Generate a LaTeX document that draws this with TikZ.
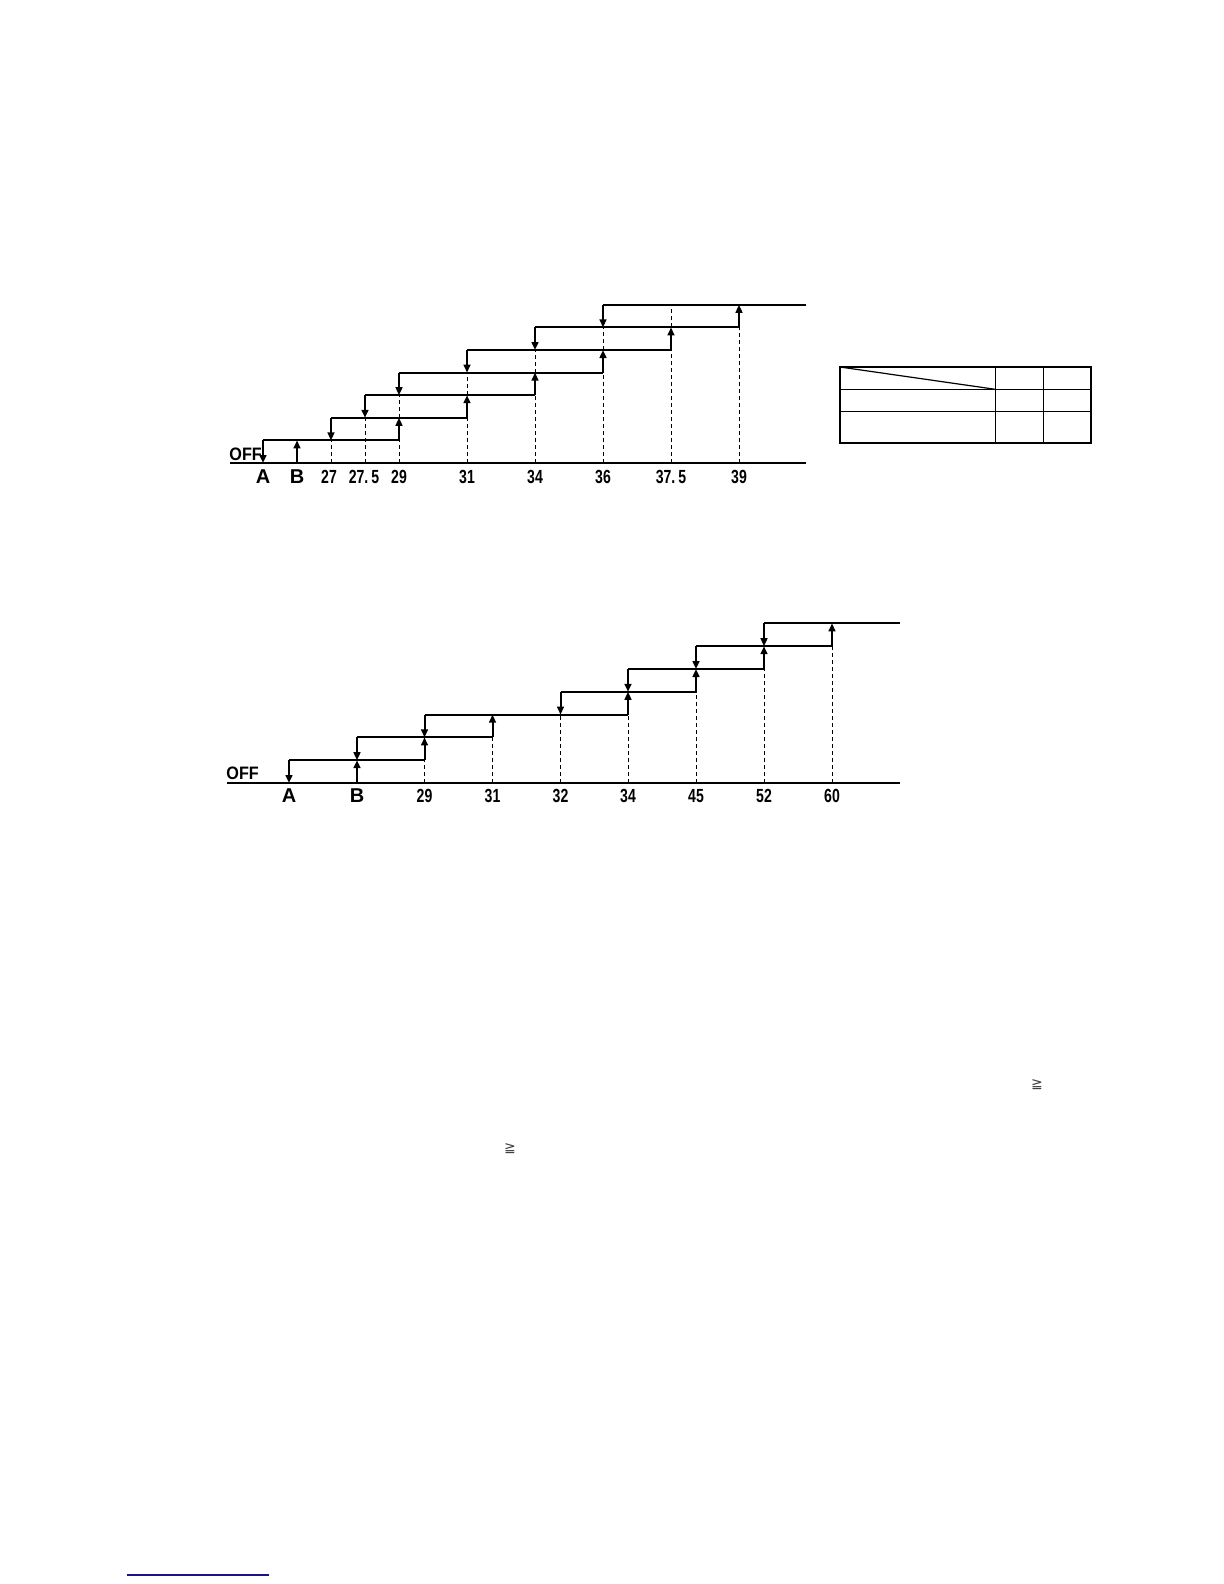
\documentclass[tikz,border=0pt]{standalone}
\usepackage{fontspec}
\setmainfont{Liberation Sans}
\newfontfamily\narrowfont[FakeStretch=0.74]{Liberation Sans}
\newfontfamily\offfont[FakeStretch=0.9]{Liberation Sans}
\newfontfamily\symfont{DejaVu Sans}
\usetikzlibrary{arrows.meta}
\begin{document}
\begin{tikzpicture}[x=0.5pt,y=-0.5pt,
  stepline/.style={line width=1pt},
  riser/.style={line width=1pt,-{Triangle[width=3.4pt,length=4pt]}},
  guide/.style={line width=0.45pt,dash pattern=on 2pt off 1.5pt},
  ticklbl/.style={font=\narrowfont\bfseries\fontsize{9.5}{11}\selectfont,inner sep=0pt},
  letterlbl/.style={font=\bfseries\fontsize{10}{11}\selectfont,inner sep=0pt},
  offlbl/.style={font=\offfont\bfseries\fontsize{9}{10}\selectfont,inner sep=0pt,anchor=west},
  geqlbl/.style={font=\symfont\fontsize{7}{8}\selectfont,inner sep=0pt,text=black!75},
  tframe/.style={line width=1.1pt},
  tgrid/.style={line width=0.6pt}]
\useasboundingbox (0,0) rectangle (1224,1584);

% ---------------- top diagram ----------------
\foreach \n/\x in {0/263,1/297,2/331,3/365,4/399,5/467,6/535,7/603,8/671,9/739,10/806}{
  \foreach \j in {0,...,7}{\coordinate (t\n-\j) at (\x,{463-22.6*\j});}
}
\coordinate (tstart) at (230,463);

\foreach \n/\a/\b in {2/0/1,3/0/2,4/0/1,4/2/3,5/0/2,5/3/4,6/0/3,6/4/5,7/0/4,7/5/6,8/0/5,8/6/7,9/0/6}
  \draw[guide] (t\n-\a) -- (t\n-\b);
\draw[stepline] (tstart) -- (t10-0);
\foreach \a/\b/\j in {0/4/1,2/5/2,3/6/3,4/7/4,5/8/5,6/9/6,7/10/7}
  \draw[stepline] (t\a-\j) -- (t\b-\j);
\foreach \n/\a/\b in {0/1/0,1/0/1,2/2/1,3/3/2,4/1/2,4/4/3,5/2/3,5/5/4,6/3/4,6/6/5,7/4/5,7/7/6,8/5/6,9/6/7}
  \draw[riser] (t\n-\a) -- (t\n-\b);

\node[offlbl] (toff) at (229,454) {OFF};
\path (t0-0) ++(0,14) node[letterlbl] (tA) {A};
\path (t1-0) ++(0,14) node[letterlbl] (tB) {B};
\path (t2-0) ++(-2,14) node[ticklbl] (t27) {27};
\path (t3-0) ++(-1,14) node[ticklbl] (t275) {27.\hspace{1.5pt}5};
\path (t4-0) ++(0,14) node[ticklbl] (t29) {29};
\path (t5-0) ++(0,14) node[ticklbl] (t31) {31};
\path (t6-0) ++(0,14) node[ticklbl] (t34) {34};
\path (t7-0) ++(0,14) node[ticklbl] (t36) {36};
\path (t8-0) ++(0,14) node[ticklbl] (t375) {37.\hspace{1.5pt}5};
\path (t9-0) ++(0,14) node[ticklbl] (t39) {39};

% ---------------- table ----------------
\coordinate (tbA) at (840,367);
\coordinate (tbB) at (1091,443);
\coordinate (tbC) at (995.3,389.3);
\draw[tgrid] (840,389.3) -- (1091,389.3);
\draw[tgrid] (840,411.3) -- (1091,411.3);
\draw[tgrid] (995.3,367) -- (995.3,443);
\draw[tgrid] (1043.3,367) -- (1043.3,443);
\draw[tgrid] (tbA) -- (tbC);
\draw[tframe] (tbA) rectangle (tbB);

% ---------------- bottom diagram ----------------
\foreach \n/\x in {0/289,1/357,2/424.5,3/492.5,4/560.5,5/628,6/696,7/764,8/832,9/900}{
  \foreach \j in {0,...,7}{\coordinate (b\n-\j) at (\x,{783-22.8*\j});}
}
\coordinate (bstart) at (227,783);

\foreach \n/\a/\b in {2/0/1,3/0/2,4/0/3,5/0/3,6/0/4,7/0/5,8/0/6}
  \draw[guide] (b\n-\a) -- (b\n-\b);
\draw[stepline] (bstart) -- (b9-0);
\foreach \a/\b/\j in {0/2/1,1/3/2,2/5/3,4/6/4,5/7/5,6/8/6,7/9/7}
  \draw[stepline] (b\a-\j) -- (b\b-\j);
\foreach \n/\a/\b in {0/1/0,1/0/1,1/2/1,2/1/2,2/3/2,3/2/3,4/4/3,5/3/4,5/5/4,6/4/5,6/6/5,7/5/6,7/7/6,8/6/7}
  \draw[riser] (b\n-\a) -- (b\n-\b);

\node[offlbl] (boff) at (226,773.5) {OFF};
\path (b0-0) ++(0,13) node[letterlbl] (bA) {A};
\path (b1-0) ++(0,13) node[letterlbl] (bB) {B};
\path (b2-0) ++(0,13) node[ticklbl] (b29) {29};
\path (b3-0) ++(0,13) node[ticklbl] (b31) {31};
\path (b4-0) ++(0,13) node[ticklbl] (b32) {32};
\path (b5-0) ++(0,13) node[ticklbl] (b34) {34};
\path (b6-0) ++(0,13) node[ticklbl] (b45) {45};
\path (b7-0) ++(0,13) node[ticklbl] (b52) {52};
\path (b8-0) ++(0,13) node[ticklbl] (b60) {60};

% ---------------- stray symbols and rule ----------------
\node[geqlbl] (g1) at (1037,1085) {≧};
\node[geqlbl] (g2) at (510,1149) {≧};
\coordinate (ulA) at (127,1575);
\coordinate (ulB) at (269,1575);
\draw[line width=0.6pt,color={rgb,255:red,20;green,20;blue,140}] (ulA) -- (ulB);
\end{tikzpicture}
\end{document}
